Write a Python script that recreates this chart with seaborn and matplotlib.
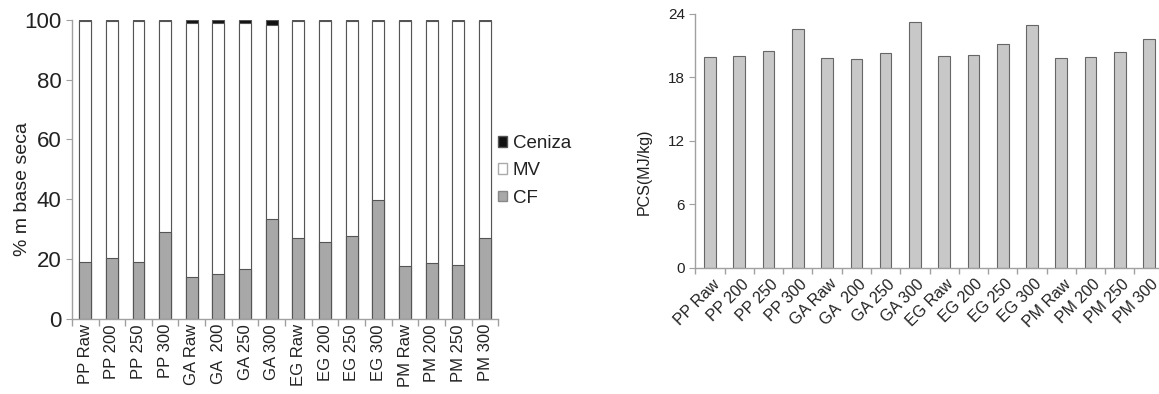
import matplotlib
matplotlib.use("Agg")
import matplotlib.pyplot as plt
import matplotlib.transforms as mtransforms
import seaborn as sns
import pandas as pd
import numpy as np
from matplotlib.patches import Patch

sns.set_theme(style="white")
plt.rcParams['font.family'] = ['Liberation Sans', 'DejaVu Sans']

categories = ["PP Raw", "PP 200", "PP 250", "PP 300",
              "GA Raw", "GA  200", "GA 250", "GA 300",
              "EG Raw", "EG 200", "EG 250", "EG 300",
              "PM Raw", "PM 200", "PM 250", "PM 300"]
cf = [19.0, 20.4, 19.0, 29.0, 14.0, 15.0, 16.7, 33.4,
      27.0, 25.7, 27.7, 39.8, 17.7, 18.7, 18.0, 27.0]
ceniza = [0.3, 0.3, 0.3, 0.4, 1.0, 1.0, 1.0, 1.8,
          0.3, 0.3, 0.3, 0.5, 0.3, 0.3, 0.3, 0.4]
mv = [100 - c - a for c, a in zip(cf, ceniza)]

pcs_labels = ["PP Raw", "PP 200", "PP 250", "PP 300",
              "GA Raw", "GA  200", "GA 250", "GA 300",
              "EG Raw", "EG 200", "EG 250", "EG 300",
              "PM Raw", "PM 200", "PM 250", "PM 300"]
pcs = [19.9, 20.0, 20.45, 22.55, 19.8, 19.7, 20.25, 23.2,
       20.0, 20.1, 21.1, 22.9, 19.87, 19.9, 20.4, 21.6]

df = pd.DataFrame({"cat": categories, "cf": cf, "mv": mv, "ceniza": ceniza})
df["cf_mv"] = df["cf"] + df["mv"]
df["total"] = df["cf_mv"] + df["ceniza"]
df2 = pd.DataFrame({"cat": pcs_labels, "pcs": pcs})

fig = plt.figure(figsize=(11.59, 3.94), dpi=100)
ax1 = fig.add_axes([0.062, 0.19, 0.368, 0.76])
ax2 = fig.add_axes([0.600, 0.32, 0.404, 0.645])

spine_c = "#a0a0a0"
edge_c = "#555555"
txt_c = "#222222"

# Left: stacked bars
sns.barplot(data=df, x="cat", y="total", color="#111111", width=0.45,
            edgecolor=edge_c, linewidth=0.8, ax=ax1, saturation=1)
sns.barplot(data=df, x="cat", y="cf_mv", color="white", width=0.45,
            edgecolor=edge_c, linewidth=0.8, ax=ax1, saturation=1)
sns.barplot(data=df, x="cat", y="cf", color="#a8a8a8", width=0.45,
            edgecolor=edge_c, linewidth=0.8, ax=ax1, saturation=1)
ax1.set_ylim(0, 100)
ax1.set_xlim(-0.5, len(categories) - 0.5)
ax1.set_yticks([0, 20, 40, 60, 80, 100])
ax1.set_xlabel("")
ax1.set_ylabel("% m base seca", fontsize=14, color=txt_c)
ax1.yaxis.set_label_coords(-0.095, 0.435)
ax1.tick_params(axis="y", labelsize=16, labelcolor=txt_c, length=4,
                left=True, width=0.8, color=spine_c)
ax1.tick_params(axis="x", labelsize=12, labelcolor=txt_c, length=0,
                rotation=90)
ax1.set_xticks(np.arange(-0.5, len(categories), 1.0), minor=True)
ax1.tick_params(axis="x", which="minor", length=5, color=spine_c, bottom=True)
for s in ["top", "right"]:
    ax1.spines[s].set_visible(False)
for s in ["left", "bottom"]:
    ax1.spines[s].set_color(spine_c)
    ax1.spines[s].set_linewidth(1.0)

handles = [Patch(facecolor="#111111", edgecolor=edge_c, label="Ceniza"),
           Patch(facecolor="white", edgecolor="#aaaaaa", label="MV"),
           Patch(facecolor="#a8a8a8", edgecolor="#888888", label="CF")]
fig.legend(handles=handles, loc="upper left", bbox_to_anchor=(0.415, 0.70),
           frameon=False, fontsize=13.5, handlelength=0.5, handleheight=0.5,
           handletextpad=0.3, labelspacing=0.55, labelcolor=txt_c)

# Right: PCS bars
sns.barplot(data=df2, x="cat", y="pcs", color="#c8c8c8", width=0.4,
            edgecolor="#666666", linewidth=0.8, ax=ax2, saturation=1)
ax2.set_ylim(0, 24)
ax2.set_xlim(-0.5, len(pcs_labels) - 0.5)
ax2.set_yticks([0, 6, 12, 18, 24])
ax2.set_xlabel("")
ax2.set_ylabel("PCS(MJ/kg)", fontsize=11.5, color=txt_c)
ax2.yaxis.set_label_coords(-0.093, 0.38)
ax2.tick_params(axis="y", labelsize=11, labelcolor=txt_c, length=4,
                left=True, width=0.8, color=spine_c)
ax2.tick_params(axis="x", labelsize=11.5, labelcolor=txt_c, length=0, pad=10)
offset = mtransforms.ScaledTranslation(7 / 100, 0, fig.dpi_scale_trans)
for lab in ax2.get_xticklabels():
    lab.set_rotation(45)
    lab.set_ha("right")
    lab.set_va("center")
    lab.set_rotation_mode("anchor")
    lab.set_transform(lab.get_transform() + offset)
ax2.set_xticks(np.arange(-0.5, len(pcs_labels), 1.0), minor=True)
ax2.tick_params(axis="x", which="minor", length=4, color=spine_c, bottom=True)
for s in ["top", "right"]:
    ax2.spines[s].set_visible(False)
for s in ["left", "bottom"]:
    ax2.spines[s].set_color(spine_c)
    ax2.spines[s].set_linewidth(1.0)

fig.savefig("out.png", dpi=100)
